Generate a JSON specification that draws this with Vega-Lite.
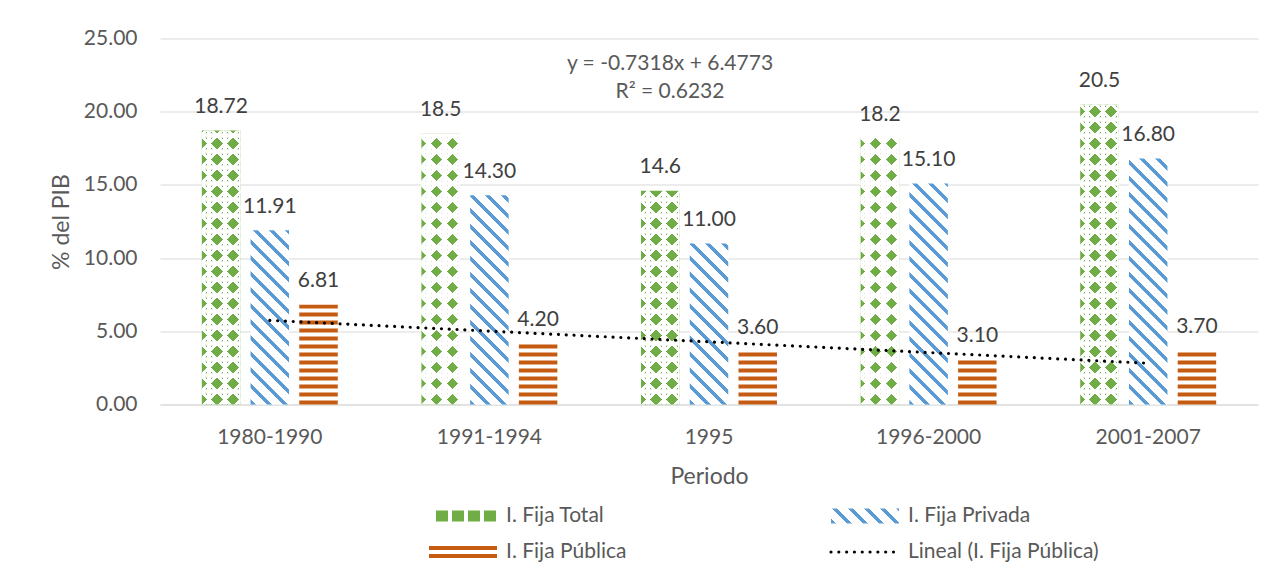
{
  "$schema": "https://vega.github.io/schema/vega-lite/v6.json",
  "width": 1098,
  "height": 366,
  "autosize": {"type": "none"},
  "padding": {"left": 160, "top": 38.5, "right": 20, "bottom": 175.5},
  "background": "#FFFFFF",
  "config": {
    "view": {"stroke": null},
    "font": "Lato",
    "axis": {"labelFont": "Lato", "labelFontSize": 21, "labelColor": "#595959", "titleFont": "Lato", "titleFontSize": 23, "titleFontWeight": "normal", "titleColor": "#595959", "ticks": false},
    "axisX": {"grid": false, "domainColor": "#D9D9D9", "domainWidth": 1, "labelAngle": 0, "labelPadding": 22, "titlePadding": 18},
    "axisY": {"domain": false, "gridColor": "#D9D9D9", "gridWidth": 1, "labelPadding": 23, "titlePadding": 10}
  },
  "datasets": {
    "inversion": [
      {"periodo": "1980-1990", "orden": 1, "serie": "I. Fija Total", "valor": 18.72},
      {"periodo": "1980-1990", "orden": 1, "serie": "I. Fija Privada", "valor": 11.91},
      {"periodo": "1980-1990", "orden": 1, "serie": "I. Fija Pública", "valor": 6.81},
      {"periodo": "1991-1994", "orden": 2, "serie": "I. Fija Total", "valor": 18.5},
      {"periodo": "1991-1994", "orden": 2, "serie": "I. Fija Privada", "valor": 14.3},
      {"periodo": "1991-1994", "orden": 2, "serie": "I. Fija Pública", "valor": 4.2},
      {"periodo": "1995", "orden": 3, "serie": "I. Fija Total", "valor": 14.6},
      {"periodo": "1995", "orden": 3, "serie": "I. Fija Privada", "valor": 11.0},
      {"periodo": "1995", "orden": 3, "serie": "I. Fija Pública", "valor": 3.6},
      {"periodo": "1996-2000", "orden": 4, "serie": "I. Fija Total", "valor": 18.2},
      {"periodo": "1996-2000", "orden": 4, "serie": "I. Fija Privada", "valor": 15.1},
      {"periodo": "1996-2000", "orden": 4, "serie": "I. Fija Pública", "valor": 3.1},
      {"periodo": "2001-2007", "orden": 5, "serie": "I. Fija Total", "valor": 20.5},
      {"periodo": "2001-2007", "orden": 5, "serie": "I. Fija Privada", "valor": 16.8},
      {"periodo": "2001-2007", "orden": 5, "serie": "I. Fija Pública", "valor": 3.7}
    ]
  },
  "data": {"name": "inversion"},
  "params": [
    {"name": "rayasAzul", "value": [
      {"offset": 0, "color": "#5B9BD5"}, {"offset": 0.014205, "color": "#5B9BD5"}, {"offset": 0.014205, "color": "#FFFFFF"}, {"offset": 0.045455, "color": "#FFFFFF"},
      {"offset": 0.045455, "color": "#5B9BD5"}, {"offset": 0.059659, "color": "#5B9BD5"}, {"offset": 0.059659, "color": "#FFFFFF"}, {"offset": 0.090909, "color": "#FFFFFF"},
      {"offset": 0.090909, "color": "#5B9BD5"}, {"offset": 0.105114, "color": "#5B9BD5"}, {"offset": 0.105114, "color": "#FFFFFF"}, {"offset": 0.136364, "color": "#FFFFFF"},
      {"offset": 0.136364, "color": "#5B9BD5"}, {"offset": 0.150568, "color": "#5B9BD5"}, {"offset": 0.150568, "color": "#FFFFFF"}, {"offset": 0.181818, "color": "#FFFFFF"},
      {"offset": 0.181818, "color": "#5B9BD5"}, {"offset": 0.196023, "color": "#5B9BD5"}, {"offset": 0.196023, "color": "#FFFFFF"}, {"offset": 0.227273, "color": "#FFFFFF"},
      {"offset": 0.227273, "color": "#5B9BD5"}, {"offset": 0.241477, "color": "#5B9BD5"}, {"offset": 0.241477, "color": "#FFFFFF"}, {"offset": 0.272727, "color": "#FFFFFF"},
      {"offset": 0.272727, "color": "#5B9BD5"}, {"offset": 0.286932, "color": "#5B9BD5"}, {"offset": 0.286932, "color": "#FFFFFF"}, {"offset": 0.318182, "color": "#FFFFFF"},
      {"offset": 0.318182, "color": "#5B9BD5"}, {"offset": 0.332386, "color": "#5B9BD5"}, {"offset": 0.332386, "color": "#FFFFFF"}, {"offset": 0.363636, "color": "#FFFFFF"},
      {"offset": 0.363636, "color": "#5B9BD5"}, {"offset": 0.377841, "color": "#5B9BD5"}, {"offset": 0.377841, "color": "#FFFFFF"}, {"offset": 0.409091, "color": "#FFFFFF"},
      {"offset": 0.409091, "color": "#5B9BD5"}, {"offset": 0.423295, "color": "#5B9BD5"}, {"offset": 0.423295, "color": "#FFFFFF"}, {"offset": 0.454545, "color": "#FFFFFF"},
      {"offset": 0.454545, "color": "#5B9BD5"}, {"offset": 0.46875, "color": "#5B9BD5"}, {"offset": 0.46875, "color": "#FFFFFF"}, {"offset": 0.5, "color": "#FFFFFF"},
      {"offset": 0.5, "color": "#5B9BD5"}, {"offset": 0.514205, "color": "#5B9BD5"}, {"offset": 0.514205, "color": "#FFFFFF"}, {"offset": 0.545455, "color": "#FFFFFF"},
      {"offset": 0.545455, "color": "#5B9BD5"}, {"offset": 0.559659, "color": "#5B9BD5"}, {"offset": 0.559659, "color": "#FFFFFF"}, {"offset": 0.590909, "color": "#FFFFFF"},
      {"offset": 0.590909, "color": "#5B9BD5"}, {"offset": 0.605114, "color": "#5B9BD5"}, {"offset": 0.605114, "color": "#FFFFFF"}, {"offset": 0.636364, "color": "#FFFFFF"},
      {"offset": 0.636364, "color": "#5B9BD5"}, {"offset": 0.650568, "color": "#5B9BD5"}, {"offset": 0.650568, "color": "#FFFFFF"}, {"offset": 0.681818, "color": "#FFFFFF"},
      {"offset": 0.681818, "color": "#5B9BD5"}, {"offset": 0.696023, "color": "#5B9BD5"}, {"offset": 0.696023, "color": "#FFFFFF"}, {"offset": 0.727273, "color": "#FFFFFF"},
      {"offset": 0.727273, "color": "#5B9BD5"}, {"offset": 0.741477, "color": "#5B9BD5"}, {"offset": 0.741477, "color": "#FFFFFF"}, {"offset": 0.772727, "color": "#FFFFFF"},
      {"offset": 0.772727, "color": "#5B9BD5"}, {"offset": 0.786932, "color": "#5B9BD5"}, {"offset": 0.786932, "color": "#FFFFFF"}, {"offset": 0.818182, "color": "#FFFFFF"},
      {"offset": 0.818182, "color": "#5B9BD5"}, {"offset": 0.832386, "color": "#5B9BD5"}, {"offset": 0.832386, "color": "#FFFFFF"}, {"offset": 0.863636, "color": "#FFFFFF"},
      {"offset": 0.863636, "color": "#5B9BD5"}, {"offset": 0.877841, "color": "#5B9BD5"}, {"offset": 0.877841, "color": "#FFFFFF"}, {"offset": 0.909091, "color": "#FFFFFF"},
      {"offset": 0.909091, "color": "#5B9BD5"}, {"offset": 0.923295, "color": "#5B9BD5"}, {"offset": 0.923295, "color": "#FFFFFF"}, {"offset": 0.954545, "color": "#FFFFFF"},
      {"offset": 0.954545, "color": "#5B9BD5"}, {"offset": 0.96875, "color": "#5B9BD5"}, {"offset": 0.96875, "color": "#FFFFFF"}, {"offset": 1, "color": "#FFFFFF"}
    ]},
    {"name": "blancoBaja", "value": [
      {"offset": 0.027699, "color": "#ffffff00"}, {"offset": 0.027699, "color": "#FFFFFF"}, {"offset": 0.040483, "color": "#FFFFFF"}, {"offset": 0.040483, "color": "#ffffff00"},
      {"offset": 0.073153, "color": "#ffffff00"}, {"offset": 0.073153, "color": "#FFFFFF"}, {"offset": 0.085938, "color": "#FFFFFF"}, {"offset": 0.085938, "color": "#ffffff00"},
      {"offset": 0.118608, "color": "#ffffff00"}, {"offset": 0.118608, "color": "#FFFFFF"}, {"offset": 0.131392, "color": "#FFFFFF"}, {"offset": 0.131392, "color": "#ffffff00"},
      {"offset": 0.164063, "color": "#ffffff00"}, {"offset": 0.164063, "color": "#FFFFFF"}, {"offset": 0.176847, "color": "#FFFFFF"}, {"offset": 0.176847, "color": "#ffffff00"},
      {"offset": 0.209517, "color": "#ffffff00"}, {"offset": 0.209517, "color": "#FFFFFF"}, {"offset": 0.222301, "color": "#FFFFFF"}, {"offset": 0.222301, "color": "#ffffff00"},
      {"offset": 0.254972, "color": "#ffffff00"}, {"offset": 0.254972, "color": "#FFFFFF"}, {"offset": 0.267756, "color": "#FFFFFF"}, {"offset": 0.267756, "color": "#ffffff00"},
      {"offset": 0.300426, "color": "#ffffff00"}, {"offset": 0.300426, "color": "#FFFFFF"}, {"offset": 0.31321, "color": "#FFFFFF"}, {"offset": 0.31321, "color": "#ffffff00"},
      {"offset": 0.345881, "color": "#ffffff00"}, {"offset": 0.345881, "color": "#FFFFFF"}, {"offset": 0.358665, "color": "#FFFFFF"}, {"offset": 0.358665, "color": "#ffffff00"},
      {"offset": 0.391335, "color": "#ffffff00"}, {"offset": 0.391335, "color": "#FFFFFF"}, {"offset": 0.404119, "color": "#FFFFFF"}, {"offset": 0.404119, "color": "#ffffff00"},
      {"offset": 0.43679, "color": "#ffffff00"}, {"offset": 0.43679, "color": "#FFFFFF"}, {"offset": 0.449574, "color": "#FFFFFF"}, {"offset": 0.449574, "color": "#ffffff00"},
      {"offset": 0.482244, "color": "#ffffff00"}, {"offset": 0.482244, "color": "#FFFFFF"}, {"offset": 0.495028, "color": "#FFFFFF"}, {"offset": 0.495028, "color": "#ffffff00"},
      {"offset": 0.527699, "color": "#ffffff00"}, {"offset": 0.527699, "color": "#FFFFFF"}, {"offset": 0.540483, "color": "#FFFFFF"}, {"offset": 0.540483, "color": "#ffffff00"},
      {"offset": 0.573153, "color": "#ffffff00"}, {"offset": 0.573153, "color": "#FFFFFF"}, {"offset": 0.585938, "color": "#FFFFFF"}, {"offset": 0.585938, "color": "#ffffff00"},
      {"offset": 0.618608, "color": "#ffffff00"}, {"offset": 0.618608, "color": "#FFFFFF"}, {"offset": 0.631392, "color": "#FFFFFF"}, {"offset": 0.631392, "color": "#ffffff00"},
      {"offset": 0.664063, "color": "#ffffff00"}, {"offset": 0.664063, "color": "#FFFFFF"}, {"offset": 0.676847, "color": "#FFFFFF"}, {"offset": 0.676847, "color": "#ffffff00"},
      {"offset": 0.709517, "color": "#ffffff00"}, {"offset": 0.709517, "color": "#FFFFFF"}, {"offset": 0.722301, "color": "#FFFFFF"}, {"offset": 0.722301, "color": "#ffffff00"},
      {"offset": 0.754972, "color": "#ffffff00"}, {"offset": 0.754972, "color": "#FFFFFF"}, {"offset": 0.767756, "color": "#FFFFFF"}, {"offset": 0.767756, "color": "#ffffff00"},
      {"offset": 0.800426, "color": "#ffffff00"}, {"offset": 0.800426, "color": "#FFFFFF"}, {"offset": 0.81321, "color": "#FFFFFF"}, {"offset": 0.81321, "color": "#ffffff00"},
      {"offset": 0.845881, "color": "#ffffff00"}, {"offset": 0.845881, "color": "#FFFFFF"}, {"offset": 0.858665, "color": "#FFFFFF"}, {"offset": 0.858665, "color": "#ffffff00"},
      {"offset": 0.891335, "color": "#ffffff00"}, {"offset": 0.891335, "color": "#FFFFFF"}, {"offset": 0.904119, "color": "#FFFFFF"}, {"offset": 0.904119, "color": "#ffffff00"},
      {"offset": 0.93679, "color": "#ffffff00"}, {"offset": 0.93679, "color": "#FFFFFF"}, {"offset": 0.949574, "color": "#FFFFFF"}, {"offset": 0.949574, "color": "#ffffff00"},
      {"offset": 0.982244, "color": "#ffffff00"}, {"offset": 0.982244, "color": "#FFFFFF"}, {"offset": 0.995028, "color": "#FFFFFF"}, {"offset": 0.995028, "color": "#ffffff00"}
    ]},
    {"name": "blancoSube", "value": [
      {"offset": 0, "color": "#FFFFFF"}, {"offset": 0.012074, "color": "#FFFFFF"}, {"offset": 0.012074, "color": "#ffffff00"},
      {"offset": 0.044744, "color": "#ffffff00"}, {"offset": 0.044744, "color": "#FFFFFF"}, {"offset": 0.057528, "color": "#FFFFFF"}, {"offset": 0.057528, "color": "#ffffff00"},
      {"offset": 0.090199, "color": "#ffffff00"}, {"offset": 0.090199, "color": "#FFFFFF"}, {"offset": 0.102983, "color": "#FFFFFF"}, {"offset": 0.102983, "color": "#ffffff00"},
      {"offset": 0.135653, "color": "#ffffff00"}, {"offset": 0.135653, "color": "#FFFFFF"}, {"offset": 0.148438, "color": "#FFFFFF"}, {"offset": 0.148438, "color": "#ffffff00"},
      {"offset": 0.181108, "color": "#ffffff00"}, {"offset": 0.181108, "color": "#FFFFFF"}, {"offset": 0.193892, "color": "#FFFFFF"}, {"offset": 0.193892, "color": "#ffffff00"},
      {"offset": 0.226563, "color": "#ffffff00"}, {"offset": 0.226563, "color": "#FFFFFF"}, {"offset": 0.239347, "color": "#FFFFFF"}, {"offset": 0.239347, "color": "#ffffff00"},
      {"offset": 0.272017, "color": "#ffffff00"}, {"offset": 0.272017, "color": "#FFFFFF"}, {"offset": 0.284801, "color": "#FFFFFF"}, {"offset": 0.284801, "color": "#ffffff00"},
      {"offset": 0.317472, "color": "#ffffff00"}, {"offset": 0.317472, "color": "#FFFFFF"}, {"offset": 0.330256, "color": "#FFFFFF"}, {"offset": 0.330256, "color": "#ffffff00"},
      {"offset": 0.362926, "color": "#ffffff00"}, {"offset": 0.362926, "color": "#FFFFFF"}, {"offset": 0.37571, "color": "#FFFFFF"}, {"offset": 0.37571, "color": "#ffffff00"},
      {"offset": 0.408381, "color": "#ffffff00"}, {"offset": 0.408381, "color": "#FFFFFF"}, {"offset": 0.421165, "color": "#FFFFFF"}, {"offset": 0.421165, "color": "#ffffff00"},
      {"offset": 0.453835, "color": "#ffffff00"}, {"offset": 0.453835, "color": "#FFFFFF"}, {"offset": 0.466619, "color": "#FFFFFF"}, {"offset": 0.466619, "color": "#ffffff00"},
      {"offset": 0.49929, "color": "#ffffff00"}, {"offset": 0.49929, "color": "#FFFFFF"}, {"offset": 0.512074, "color": "#FFFFFF"}, {"offset": 0.512074, "color": "#ffffff00"},
      {"offset": 0.544744, "color": "#ffffff00"}, {"offset": 0.544744, "color": "#FFFFFF"}, {"offset": 0.557528, "color": "#FFFFFF"}, {"offset": 0.557528, "color": "#ffffff00"},
      {"offset": 0.590199, "color": "#ffffff00"}, {"offset": 0.590199, "color": "#FFFFFF"}, {"offset": 0.602983, "color": "#FFFFFF"}, {"offset": 0.602983, "color": "#ffffff00"},
      {"offset": 0.635653, "color": "#ffffff00"}, {"offset": 0.635653, "color": "#FFFFFF"}, {"offset": 0.648438, "color": "#FFFFFF"}, {"offset": 0.648438, "color": "#ffffff00"},
      {"offset": 0.681108, "color": "#ffffff00"}, {"offset": 0.681108, "color": "#FFFFFF"}, {"offset": 0.693892, "color": "#FFFFFF"}, {"offset": 0.693892, "color": "#ffffff00"},
      {"offset": 0.726563, "color": "#ffffff00"}, {"offset": 0.726563, "color": "#FFFFFF"}, {"offset": 0.739347, "color": "#FFFFFF"}, {"offset": 0.739347, "color": "#ffffff00"},
      {"offset": 0.772017, "color": "#ffffff00"}, {"offset": 0.772017, "color": "#FFFFFF"}, {"offset": 0.784801, "color": "#FFFFFF"}, {"offset": 0.784801, "color": "#ffffff00"},
      {"offset": 0.817472, "color": "#ffffff00"}, {"offset": 0.817472, "color": "#FFFFFF"}, {"offset": 0.830256, "color": "#FFFFFF"}, {"offset": 0.830256, "color": "#ffffff00"},
      {"offset": 0.862926, "color": "#ffffff00"}, {"offset": 0.862926, "color": "#FFFFFF"}, {"offset": 0.87571, "color": "#FFFFFF"}, {"offset": 0.87571, "color": "#ffffff00"},
      {"offset": 0.908381, "color": "#ffffff00"}, {"offset": 0.908381, "color": "#FFFFFF"}, {"offset": 0.921165, "color": "#FFFFFF"}, {"offset": 0.921165, "color": "#ffffff00"},
      {"offset": 0.953835, "color": "#ffffff00"}, {"offset": 0.953835, "color": "#FFFFFF"}, {"offset": 0.966619, "color": "#FFFFFF"}, {"offset": 0.966619, "color": "#ffffff00"}
    ]},
    {"name": "leyendaVerde", "value": [
      {"offset": 0.10294, "color": "#ffffff00"}, {"offset": 0.10294, "color": "#70AD47"}, {"offset": 0.27941, "color": "#70AD47"}, {"offset": 0.27941, "color": "#ffffff00"},
      {"offset": 0.33824, "color": "#ffffff00"}, {"offset": 0.33824, "color": "#70AD47"}, {"offset": 0.51471, "color": "#70AD47"}, {"offset": 0.51471, "color": "#ffffff00"},
      {"offset": 0.57353, "color": "#ffffff00"}, {"offset": 0.57353, "color": "#70AD47"}, {"offset": 0.75, "color": "#70AD47"}, {"offset": 0.75, "color": "#ffffff00"},
      {"offset": 0.80882, "color": "#ffffff00"}, {"offset": 0.80882, "color": "#70AD47"}, {"offset": 0.98529, "color": "#70AD47"}, {"offset": 0.98529, "color": "#ffffff00"}
    ]},
    {"name": "leyendaNaranja", "value": [
      {"offset": 0, "color": "#C55A11"}, {"offset": 0.3333, "color": "#C55A11"}, {"offset": 0.3333, "color": "#ffffff00"},
      {"offset": 0.6667, "color": "#ffffff00"}, {"offset": 0.6667, "color": "#C55A11"}, {"offset": 1, "color": "#C55A11"}
    ]}
  ],
  "layer": [
    {
      "encoding": {
        "x": {
          "field": "periodo", "type": "nominal",
          "scale": {"domain": ["1980-1990", "1991-1994", "1995", "1996-2000", "2001-2007"], "paddingInner": 0.381, "paddingOuter": 0.1905},
          "axis": {"title": "Periodo"}
        },
        "xOffset": {
          "field": "serie", "type": "nominal",
          "scale": {"domain": ["I. Fija Total", "I. Fija Privada", "I. Fija Pública"], "paddingInner": 0.21, "paddingOuter": 0}
        },
        "y": {
          "field": "valor", "type": "quantitative",
          "scale": {"domain": [0, 25], "nice": false},
          "axis": {"title": "% del PIB", "values": [0, 5, 10, 15, 20, 25], "format": ".2f"}
        }
      },
      "layer": [
        {
          "transform": [{"filter": "datum.serie === 'I. Fija Total'"}],
          "mark": {"type": "bar", "fill": "#70AD47"}
        },
        {
          "transform": [{"filter": "datum.serie === 'I. Fija Total'"}],
          "mark": {"type": "bar", "fill": {"expr": "{gradient: 'linear', x1: 0, y1: 1, x2: 352*bandwidth('xOffset')/(pow(bandwidth('xOffset'),2)+pow(scale('y',0)-scale('y',datum.valor),2)), y2: 1-352*(scale('y',0)-scale('y',datum.valor))/(pow(bandwidth('xOffset'),2)+pow(scale('y',0)-scale('y',datum.valor),2)), stops: blancoBaja}"}}
        },
        {
          "transform": [{"filter": "datum.serie === 'I. Fija Total'"}],
          "mark": {"type": "bar", "fill": {"expr": "{gradient: 'linear', x1: 0, y1: 1-304/(scale('y',0)-scale('y',datum.valor)), x2: 352*bandwidth('xOffset')/(pow(bandwidth('xOffset'),2)+pow(scale('y',0)-scale('y',datum.valor),2)), y2: 1-304/(scale('y',0)-scale('y',datum.valor))+352*(scale('y',0)-scale('y',datum.valor))/(pow(bandwidth('xOffset'),2)+pow(scale('y',0)-scale('y',datum.valor),2)), stops: blancoSube}"}}
        },
        {
          "transform": [{"filter": "datum.serie === 'I. Fija Total'"}],
          "mark": {"type": "bar", "fill": {"gradient": "linear", "x1": 0, "y1": 0, "x2": 1, "y2": 0, "stops": [
            {"offset": 0.12338, "color": "#ffffff00"}, {"offset": 0.12338, "color": "#FFFFFF"}, {"offset": 0.24026, "color": "#FFFFFF"}, {"offset": 0.24026, "color": "#ffffff00"},
            {"offset": 0.53896, "color": "#ffffff00"}, {"offset": 0.53896, "color": "#FFFFFF"}, {"offset": 0.65584, "color": "#FFFFFF"}, {"offset": 0.65584, "color": "#ffffff00"},
            {"offset": 0.95455, "color": "#ffffff00"}, {"offset": 0.95455, "color": "#FFFFFF"}, {"offset": 1, "color": "#FFFFFF"}
          ]}}
        },
        {
          "transform": [{"filter": "datum.serie === 'I. Fija Total'"}],
          "mark": {"type": "rule", "stroke": "#FFFFFF", "strokeWidth": {"expr": "bandwidth('xOffset')"}, "strokeDash": [4.5, 11.5], "strokeDashOffset": {"expr": "15.25 - (scale('y',0) - scale('y',datum.valor))"}, "strokeCap": "butt"},
          "encoding": {"y2": {"datum": 0}}
        },
        {
          "transform": [{"filter": "datum.serie === 'I. Fija Privada'"}],
          "mark": {"type": "bar", "fill": {"expr": "{gradient: 'linear', x1: 0, y1: 1, x2: 352*bandwidth('xOffset')/(pow(bandwidth('xOffset'),2)+pow(scale('y',0)-scale('y',datum.valor),2)), y2: 1-352*(scale('y',0)-scale('y',datum.valor))/(pow(bandwidth('xOffset'),2)+pow(scale('y',0)-scale('y',datum.valor),2)), stops: rayasAzul}"}}
        },
        {
          "transform": [{"filter": "datum.serie === 'I. Fija Pública'"}],
          "mark": {"type": "bar", "fill": "#FFFFFF"}
        },
        {
          "transform": [{"filter": "datum.serie === 'I. Fija Pública'"}],
          "mark": {"type": "rule", "stroke": "#C55A11", "strokeWidth": {"expr": "bandwidth('xOffset')"}, "strokeDash": [4, 4], "strokeDashOffset": {"expr": "4 - (scale('y',0) - scale('y',datum.valor))"}, "strokeCap": "butt"},
          "encoding": {"y2": {"datum": 0}}
        },
        {
          "transform": [{"filter": "datum.serie === 'I. Fija Total'"}],
          "mark": {"type": "text", "baseline": "alphabetic", "dy": -17.5, "font": "Lato", "fontSize": 21, "color": "#404040"},
          "encoding": {"text": {"field": "valor", "type": "quantitative"}}
        },
        {
          "transform": [{"filter": "datum.serie !== 'I. Fija Total'"}],
          "mark": {"type": "text", "baseline": "alphabetic", "dy": -17.5, "font": "Lato", "fontSize": 21, "color": "#404040"},
          "encoding": {"text": {"field": "valor", "type": "quantitative", "format": ".2f"}}
        },
        {
          "transform": [{"filter": "false"}],
          "mark": {"type": "bar"},
          "encoding": {
            "color": {
              "field": "serie", "type": "nominal",
              "scale": {
                "domain": ["I. Fija Total", "I. Fija Privada", "I. Fija Pública", "Lineal (I. Fija Pública)"],
                "range": [
                  {"expr": "{gradient: 'linear', x1: 0, y1: 0, x2: 1, y2: 0, stops: leyendaVerde}"},
                  {"expr": "{gradient: 'linear', x1: 0, y1: 1, x2: 4.9363, y2: -0.0889, stops: rayasAzul}"},
                  {"expr": "{gradient: 'linear', x1: 0, y1: 0, x2: 0, y2: 1, stops: leyendaNaranja}"},
                  "transparent"
                ]
              },
              "legend": {
                "title": null, "orient": "none", "direction": "horizontal", "legendX": 267, "legendY": 464.5,
                "columns": 2, "columnPadding": 202, "rowPadding": 10, "clipHeight": 26, "padding": 0,
                "labelFont": "Lato", "labelFontSize": 21, "labelColor": "#595959", "labelOffset": 7, "labelLimit": 400,
                "symbolSize": 4624,
                "encode": {
                  "symbols": {
                    "update": {
                      "shape": {"signal": "datum.value === 'I. Fija Total' ? 'M-1,-0.16H1V0.16H-1Z' : datum.value === 'I. Fija Privada' ? 'M-1,-0.22H1V0.22H-1Z' : datum.value === 'I. Fija Pública' ? 'M-1,-0.1765H1V0.1765H-1Z' : 'M-1,0H1'"},
                      "stroke": {"signal": "datum.value === 'Lineal (I. Fija Pública)' ? '#000000' : 'transparent'"},
                      "strokeWidth": {"value": 3.2},
                      "strokeDash": {"value": [0.01, 7.8]},
                      "strokeCap": {"value": "round"},
                      "size": {"value": 4624},
                      "opacity": {"value": 1}
                    }
                  }
                }
              }
            }
          }
        }
      ]
    },
    {
      "transform": [
        {"filter": "datum.serie === 'I. Fija Pública'"},
        {"regression": "valor", "on": "orden", "extent": [1, 5]},
        {"lookup": "orden", "from": {"data": {"name": "inversion"}, "key": "orden", "fields": ["periodo"]}}
      ],
      "mark": {"type": "line", "stroke": "#000000", "strokeWidth": 3.2, "strokeDash": [0.01, 7.8], "strokeCap": "round"},
      "encoding": {
        "x": {"field": "periodo", "type": "nominal"},
        "y": {"field": "valor", "type": "quantitative"}
      }
    },
    {
      "data": {"values": [{}]},
      "mark": {"type": "text", "text": ["y = -0.7318x + 6.4773", "R² = 0.6232"], "lineHeight": 28, "dx": -39, "align": "center", "baseline": "middle", "font": "Lato", "fontSize": 21, "color": "#595959"},
      "encoding": {
        "x": {"datum": "1995", "type": "nominal"},
        "y": {"datum": 23.26, "type": "quantitative"}
      }
    }
  ]
}
